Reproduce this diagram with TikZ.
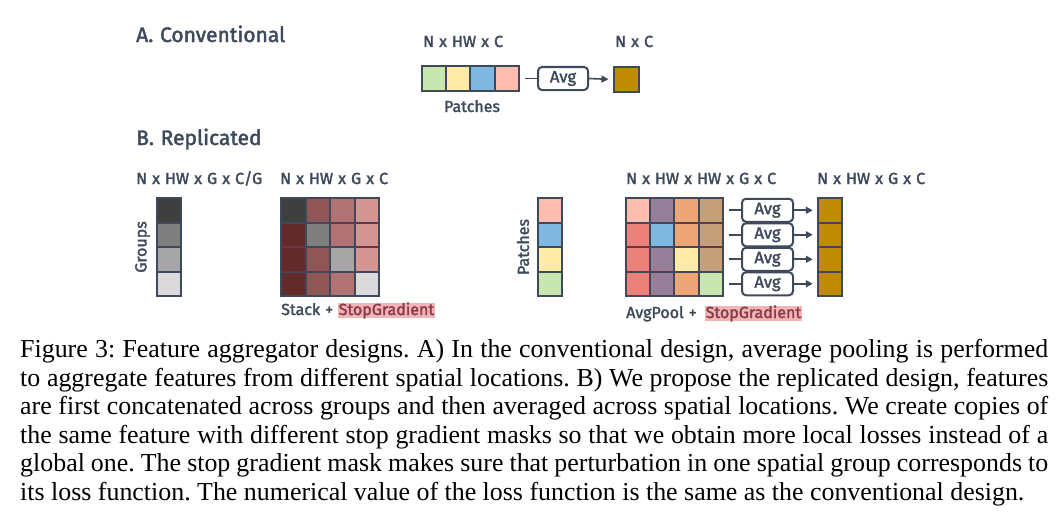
\documentclass[tikz,border=0pt]{standalone}
\usepackage{fontspec}
\setmainfont{Liberation Serif}
\newfontfamily\dfont{Fira Sans}[FakeBold=2, WordSpace=1.2]
\usetikzlibrary{arrows.meta}
\definecolor{slate}{HTML}{3E4A5C}
\definecolor{cgreen}{HTML}{C8E6B0}
\definecolor{cyellow}{HTML}{FEEBA8}
\definecolor{cblue}{HTML}{80B8E2}
\definecolor{cpink}{HTML}{FDBCB0}
\definecolor{cgold}{HTML}{BF8C00}
\definecolor{ga}{HTML}{3F3F3F}
\definecolor{gb}{HTML}{7F7F7F}
\definecolor{gc}{HTML}{A6A6A6}
\definecolor{gd}{HTML}{DADADA}
\definecolor{ra}{HTML}{632A2A}
\definecolor{rb}{HTML}{905656}
\definecolor{rc}{HTML}{B07272}
\definecolor{rd}{HTML}{D49595}
\definecolor{maroon}{HTML}{6E3246}
\definecolor{cred}{HTML}{EC807A}
\definecolor{cpurple}{HTML}{957F9A}
\definecolor{corange}{HTML}{ECA676}
\definecolor{ctan}{HTML}{C4A07A}
\definecolor{hl}{HTML}{F2B5B5}
\definecolor{hltext}{HTML}{8A3A48}
\tikzset{
  cell/.style={rectangle, draw=slate, line width=2pt, minimum width=24.5pt, minimum height=24.5pt, inner sep=0pt, outer sep=0pt},
  ncell/.style={cell, minimum width=24.25pt},
  lbl/.style={font=\dfont\fontsize{16}{16}\selectfont, text=slate, inner sep=0pt, anchor=base west},
  ttl/.style={font=\dfont\fontsize{21}{21}\selectfont, text=slate, inner sep=0pt, anchor=base west},
  hlbox/.style={font=\dfont\fontsize{16}{16}\selectfont, text=hltext, fill=hl, inner xsep=1pt, inner ysep=0.5pt, text height=11.5pt, text depth=2pt, anchor=base west},
  avgbox/.style={draw=slate, line width=2pt, rounded corners=4pt, minimum width=51pt, minimum height=23pt, inner sep=0pt, font=\dfont\fontsize{16.5}{16.5}\selectfont, text=slate},
  conn/.style={draw=slate, line width=1.6pt},
  arr/.style={conn, -{Triangle[length=7pt,width=7pt]}},
  sepl/.style={draw=maroon, line width=1.8pt, shorten <=1pt, shorten >=1pt},
  capt/.style={font=\fontsize{25.9}{25.9}\selectfont, inner sep=0pt, anchor=base west},
}
\begin{document}
\frenchspacing
\begin{tikzpicture}[x=1pt, y=-1pt]
\useasboundingbox (0,0) rectangle (1062,519);
\fill[white] (0,0) rectangle (1062,519);

% ---------- A. Conventional ----------
\node[ttl] (tA) at (136,42) {A. Conventional};
\node[lbl] (dimA1) at (423,47) {N x HW x C};
\node[lbl] (dimA2) at (615,47) {N x C};
\node[ncell, fill=cgreen]  (p1) at (434.1,78.5) {};
\node[ncell, fill=cyellow] (p2) at (458.4,78.5) {};
\node[ncell, fill=cblue]   (p3) at (482.6,78.5) {};
\node[ncell, fill=cpink]   (p4) at (506.9,78.5) {};
\node[lbl, anchor=base] (patA) at (472,112) {Patches};
\node[avgbox, minimum width=50pt] (avgA) at (563,78.5) {Avg};
\node[cell, minimum width=25pt, minimum height=25pt, fill=cgold] (outA) at (626,79.5) {};
\draw[conn, shorten <=6pt] (p4.east) -- (avgA.west);
\draw[arr, shorten >=5pt] (avgA.east) -- (outA.west);

% ---------- B. Replicated ----------
\node[ttl] (tB) at (136,145) {B. Replicated};
\node[lbl] (dimB1) at (136,184) {N x HW x G x C/G};
\node[lbl] (dimB2) at (280,184) {N x HW x G x C};
\node[lbl] (dimB3) at (626,184) {N x HW x HW x G x C};
\node[lbl] (dimB4) at (817,184) {N x HW x G x C};

% groups column
\node[cell, fill=ga] (g1) at (169,210.25) {};
\node[cell, fill=gb] (g2) at (169,234.75) {};
\node[cell, fill=gc] (g3) at (169,259.25) {};
\node[cell, fill=gd] (g4) at (169,283.75) {};
\node[lbl, anchor=center, rotate=90] (grp) at (142.5,247) {Groups};

% stack matrix
\foreach \r/\c/\col in {1/1/ga,1/2/rb,1/3/rc,1/4/rd,
                        2/1/ra,2/2/gb,2/3/rc,2/4/rd,
                        3/1/ra,3/2/rb,3/3/gc,3/4/rd,
                        4/1/ra,4/2/rb,4/3/rc,4/4/gd}{
  \node[cell, fill=\col] (s\r\c) at ({293.25+24.5*(\c-1)},{210.25+24.5*(\r-1)}) {};
}
\foreach \r/\c in {1/3,1/4,2/1,2/4,3/1,3/2}{
  \draw[sepl] (s\r\c.south west) -- (s\r\c.south east);
}
\node[lbl] (stk) at (281,315) {Stack +};
\node[hlbox] (sg1) at (337.5,315) {StopGradient};

% patches column
\node[cell, fill=cpink]   (q1) at (550,210.25) {};
\node[cell, fill=cblue]   (q2) at (550,234.75) {};
\node[cell, fill=cyellow] (q3) at (550,259.25) {};
\node[cell, fill=cgreen]  (q4) at (550,283.75) {};
\node[lbl, anchor=center, rotate=90] (patB) at (523,247) {Patches};

% avgpool matrix
\foreach \r/\c/\col in {1/1/cpink,1/2/cpurple,1/3/corange,1/4/ctan,
                        2/1/cred,2/2/cblue,2/3/corange,2/4/ctan,
                        3/1/cred,3/2/cpurple,3/3/cyellow,3/4/ctan,
                        4/1/cred,4/2/cpurple,4/3/corange,4/4/cgreen}{
  \node[ncell, fill=\col] (m\r\c) at ({638.1+24.25*(\c-1)},{210.25+24.5*(\r-1)}) {};
}
\foreach \r/\c in {1/3,1/4,2/1,2/4,3/1,3/2}{
  \draw[sepl] (m\r\c.south west) -- (m\r\c.south east);
}
\node[lbl] (avp) at (626,318) {AvgPool +};
\node[hlbox] (sg2) at (704.5,318) {StopGradient};

% avg boxes and outputs
\foreach \r in {1,2,3,4}{
  \node[avgbox] (a\r) at (767.5,{210.25+24.5*(\r-1)}) {Avg};
  \node[cell, fill=cgold] (o\r) at (830,{210.25+24.5*(\r-1)}) {};
}
\foreach \r in {1,2,3,4}{
  \draw[conn, shorten <=6pt] (m\r4.east) -- (a\r.west);
  \draw[arr, shorten >=5pt] (a\r.east) -- (o\r.west);
}

% ---------- caption ----------
\node[capt] (c1) at (20,357.5) {\makebox[1028pt][s]{Figure 3: Feature aggregator designs. A) In the conventional design, average pooling is performed}};
\node[capt] (c2) at (20,386) {\makebox[1028pt][s]{to aggregate features from different spatial locations. B) We propose the replicated design, features}};
\node[capt] (c3) at (20,414.6) {\makebox[1028pt][s]{are first concatenated across groups and then averaged across spatial locations. We create copies of}};
\node[capt] (c4) at (20,443) {\makebox[1028pt][s]{the same feature with different stop gradient masks so that we obtain more local losses instead of a}};
\node[capt] (c5) at (20,471.7) {\makebox[1028pt][s]{global one. The stop gradient mask makes sure that perturbation in one spatial group corresponds to}};
\node[capt] (c6) at (20,500) {its loss function. The numerical value of the loss function is the same as the conventional design.};
\end{tikzpicture}
\end{document}
